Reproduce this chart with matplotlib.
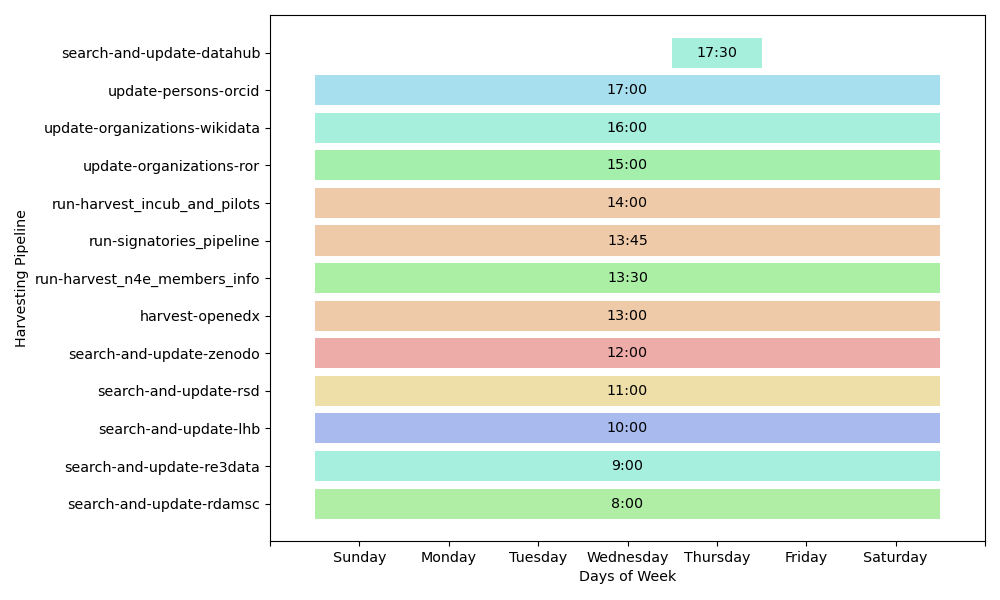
import matplotlib
matplotlib.use("Agg")
import matplotlib.pyplot as plt

plt.rcParams["font.size"] = 10.3

day_names = ["Sunday", "Monday", "Tuesday", "Wednesday", "Thursday", "Friday", "Saturday"]

pipelines = [
    "search-and-update-rdamsc",
    "search-and-update-re3data",
    "search-and-update-lhb",
    "search-and-update-rsd",
    "search-and-update-zenodo",
    "harvest-openedx",
    "run-harvest_n4e_members_info",
    "run-signatories_pipeline",
    "run-harvest_incub_and_pilots",
    "update-organizations-ror",
    "update-organizations-wikidata",
    "update-persons-orcid",
    "search-and-update-datahub",
]
times = ["8:00", "9:00", "10:00", "11:00", "12:00", "13:00", "13:30",
         "13:45", "14:00", "15:00", "16:00", "17:00", "17:30"]
run_days = [day_names] * 12 + [["Thursday"]]
colors = ["#b0eea6", "#a6efdf", "#a8baee", "#eedea8", "#eeaca8", "#eecaa8", "#abefa5",
          "#eecaa8", "#eecaa8", "#a5efad", "#a6efdd", "#a8dfee", "#a6efdd"]

fig, ax = plt.subplots(figsize=(10, 6), dpi=100)

for i, (name, t, days, c) in enumerate(zip(pipelines, times, run_days, colors)):
    idx = [day_names.index(d) + 1 for d in days]
    start = min(idx) - 0.5
    width = max(idx) - min(idx) + 1
    ax.barh(i, width, left=start, height=0.8, color=c)
    ax.text(start + width / 2, i, t, ha="center", va="center", color="black")

ax.set_yticks(range(len(pipelines)))
ax.set_yticklabels(pipelines)
ax.set_ylim(-1, len(pipelines))
ax.set_xticks(range(0, 9))
ax.set_xticklabels([""] + day_names + [""])
ax.set_xlim(0, 8)
ax.set_xlabel("Days of Week")
ax.set_ylabel("Harvesting Pipeline")

fig.subplots_adjust(left=0.27, right=0.985, top=0.975, bottom=0.098)
fig.savefig("out.png")
